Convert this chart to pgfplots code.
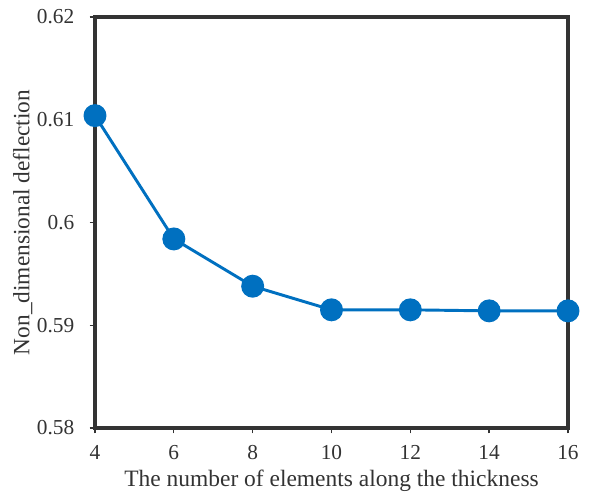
\documentclass[border=0pt]{standalone}
\usepackage{pgfplots}
\pgfplotsset{compat=1.18}
\usepackage{fontspec}
\setmainfont{Liberation Serif}
\definecolor{lineblue}{HTML}{0070C0}
\definecolor{axisgray}{HTML}{333333}
\begin{document}
\begin{tikzpicture}
\useasboundingbox (-71.25pt,-48.75pt) rectangle (371.25pt,321pt);
\begin{axis}[
  at={(0,0)}, anchor=south west,
  scale only axis,
  width=354.75pt, height=308.25pt,
  xmin=4, xmax=16, ymin=0.58, ymax=0.62,
  xtick={4,6,...,16},
  ytick={0.58,0.59,0.6,0.61,0.62},
  yticklabels={0.58,0.59,0.6,0.61,0.62},
  axis line style={axisgray, line width=2.6pt},
  tick style={axisgray, line width=1pt},
  tick align=outside,
  major tick length=4pt,
  xtick pos=bottom, ytick pos=left,
  /pgf/number format/assume math mode=true,
  ticklabel style={font=\fontsize{16}{18}\selectfont, text=axisgray},
  yticklabel style={xshift=-8pt},
  xticklabel style={yshift=-5.5pt},
  xlabel={The number of elements along the thickness},
  ylabel={Non\_dimensional deflection},
  xlabel style={font=\fontsize{17.6}{18}\selectfont, text=axisgray, yshift=-0.5pt},
  ylabel style={font=\fontsize{17.5}{18}\selectfont, text=axisgray, yshift=-3.5pt},
  clip=false,
]
\addplot[color=lineblue, line width=2.2pt, mark=*, mark size=7.5pt, mark options={fill=lineblue, draw=lineblue}]
coordinates {(4,0.6104) (6,0.5984) (8,0.5938) (10,0.5915) (12,0.5915) (14,0.5914) (16,0.5914)};
\end{axis}
\end{tikzpicture}
\end{document}
